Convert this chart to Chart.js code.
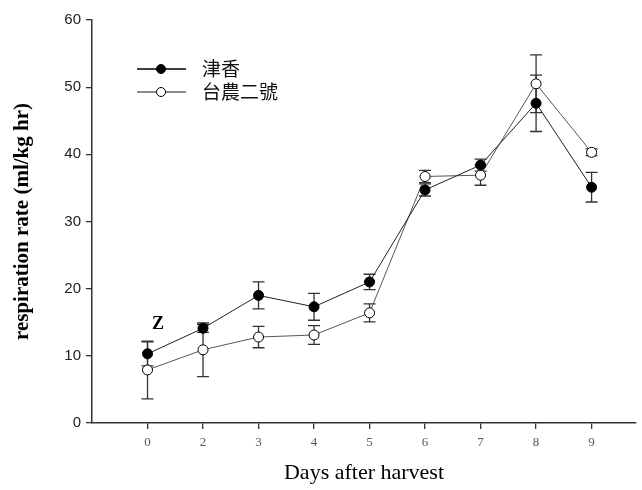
<!DOCTYPE html>
<html>
<head>
<meta charset="utf-8">
<script src="https://cdn.jsdelivr.net/npm/chart.js@4"></script>
<style>
  html, body { margin: 0; padding: 0; background: #fff; }
  #wrap { width: 642px; height: 490px; }
</style>
</head>
<body>
<div id="wrap"><canvas id="c" width="642" height="490"></canvas></div>
<script>
const dayLabels = ['0', '2', '3', '4', '5', '6', '7', '8', '9'];
const jinXiang = [10.3, 14.1, 19.0, 17.3, 21.0, 34.7, 38.4, 47.6, 35.1];
const jinXiangErr = [1.8, 0.6, 2.0, 2.0, 1.15, 0.9, 0.9, 4.2, 2.2];
const taiNung2 = [7.9, 10.9, 12.8, 13.1, 16.4, 36.7, 36.9, 50.5, 40.3];
const taiNung2Err = [4.3, 4.0, 1.6, 1.4, 1.35, 0.9, 1.5, 4.3, 0.5];
const yTicks = [0, 10, 20, 30, 40, 50, 60];

function toPoints(vals) {
    return vals.map((v, i) => ({ x: i, y: v }));
}

const errorBars = {
    id: 'errorBars',
    beforeDatasetsDraw(chart) {
        const ctx = chart.ctx;
        const xs = chart.scales.x, ys = chart.scales.y;
        const sets = [[jinXiang, jinXiangErr], [taiNung2, taiNung2Err]];
        ctx.save();
        ctx.strokeStyle = '#333';
        ctx.lineWidth = 1.3;
        sets.forEach(([vals, errs]) => {
            vals.forEach((v, i) => {
                const px = xs.getPixelForValue(i);
                const top = ys.getPixelForValue(v + errs[i]);
                const bot = ys.getPixelForValue(v - errs[i]);
                ctx.beginPath();
                ctx.moveTo(px, top); ctx.lineTo(px, bot);
                ctx.moveTo(px - 6, top); ctx.lineTo(px + 6, top);
                ctx.moveTo(px - 6, bot); ctx.lineTo(px + 6, bot);
                ctx.stroke();
            });
        });
        ctx.restore();
    }
};

const extras = {
    id: 'extras',
    afterDraw(chart) {
        const ctx = chart.ctx;
        ctx.save();
        // legend
        const items = [
            { label: '津香', y: 69, line: '#000', fill: '#000' },
            { label: '台農二號', y: 92, line: '#666', fill: '#fff' }
        ];
        items.forEach(it => {
            ctx.strokeStyle = it.line;
            ctx.lineWidth = 1.3;
            ctx.beginPath();
            ctx.moveTo(137, it.y); ctx.lineTo(186, it.y);
            ctx.stroke();
            ctx.beginPath();
            ctx.arc(161, it.y, 4.5, 0, Math.PI * 2);
            ctx.fillStyle = it.fill;
            ctx.fill();
            ctx.strokeStyle = '#000';
            ctx.lineWidth = 1;
            ctx.stroke();
            ctx.fillStyle = '#111';
            ctx.font = '19px "Noto Sans CJK TC"';
            ctx.textBaseline = 'middle';
            ctx.fillText(it.label, 202, it.y);
        });
        // Z mark
        ctx.font = 'bold 18px "Liberation Serif"';
        ctx.textAlign = 'center';
        ctx.textBaseline = 'middle';
        ctx.fillStyle = '#000';
        ctx.fillText('Z', 158, 324);
        ctx.restore();
    }
};

new Chart(document.getElementById('c'), {
    type: 'line',
    data: {
        datasets: [
            {
                label: '津香',
                data: toPoints(jinXiang),
                borderColor: '#222',
                borderWidth: 1,
                pointBackgroundColor: '#000',
                pointBorderColor: '#000',
                pointRadius: 5,
                pointBorderWidth: 1,
            },
            {
                label: '台農二號',
                data: toPoints(taiNung2),
                borderColor: '#555',
                borderWidth: 1,
                pointBackgroundColor: '#fff',
                pointBorderColor: '#000',
                pointRadius: 5,
                pointBorderWidth: 1,
            },
        ],
    },
    options: {
        responsive: false,
        animation: false,
        layout: { padding: { top: 20, right: 2, left: 0, bottom: 0 } },
        plugins: {
            legend: { display: false },
            tooltip: { enabled: false },
        },
        scales: {
            x: {
                type: 'linear',
                min: -1,
                max: 8.8,
                afterBuildTicks(scale) {
                    scale.ticks = dayLabels.map((d, i) => ({ value: i }));
                },
                afterFit(scale) { scale.height = 67; },
                grid: { drawOnChartArea: false, drawTicks: true, tickLength: 6, color: '#333', lineWidth: 1.3 },
                border: { display: true, color: '#333', width: 1.5 },
                ticks: {
                    autoSkip: false,
                    maxRotation: 0,
                    padding: 6,
                    color: '#555566',
                    font: { family: 'Liberation Sans Narrow', size: 13 },
                    callback: (v) => dayLabels[v] ?? '',
                },
                title: {
                    display: true,
                    text: 'Days after harvest',
                    color: '#000',
                    font: { family: 'Liberation Serif', size: 22 },
                    padding: { top: 20 },
                },
            },
            y: {
                min: 0,
                max: 60,
                afterBuildTicks(scale) {
                    scale.ticks = yTicks.map(v => ({ value: v }));
                },
                afterFit(scale) { scale.width = 92; },
                grid: { drawOnChartArea: false, drawTicks: true, tickLength: 6, color: '#333', lineWidth: 1.3 },
                border: { display: true, color: '#333', width: 1.5 },
                ticks: {
                    padding: 5,
                    color: '#222',
                    font: { family: 'Liberation Sans', size: 15 },
                },
                title: {
                    display: true,
                    text: 'respiration rate (ml/kg hr)',
                    color: '#000',
                    font: { family: 'Liberation Serif', size: 21, weight: 'bold' },
                    padding: { top: 10, bottom: 8 },
                },
            },
        },
    },
    plugins: [errorBars, extras],
});
</script>
</body>
</html>
